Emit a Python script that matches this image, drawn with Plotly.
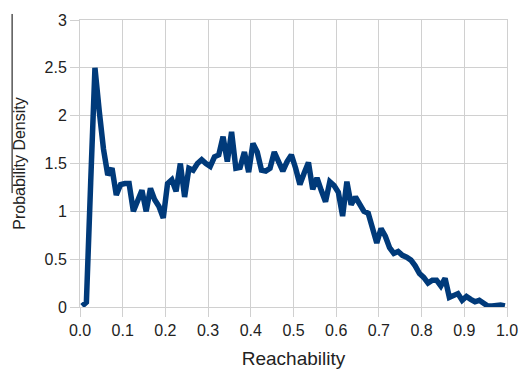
import plotly.graph_objects as go

reachability = [round(0.005 + 0.01 * k, 3) for k in range(100)]
density = [
    0.01, 0.05, 1.30, 2.50, 2.05, 1.65, 1.38, 1.45, 1.17, 1.28,
    1.29, 1.29, 1.00, 1.10, 1.22, 1.00, 1.24, 1.12, 1.05, 0.93,
    1.29, 1.33, 1.21, 1.50, 1.15, 1.45, 1.43, 1.50, 1.54, 1.50,
    1.47, 1.57, 1.59, 1.78, 1.52, 1.83, 1.45, 1.46, 1.62, 1.41,
    1.71, 1.62, 1.43, 1.42, 1.45, 1.62, 1.50, 1.42, 1.52, 1.59,
    1.45, 1.28, 1.40, 1.51, 1.23, 1.35, 1.22, 1.10, 1.31, 1.27,
    1.20, 0.95, 1.31, 1.07, 1.15, 1.08, 1.00, 0.98, 0.80, 0.67,
    0.82, 0.74, 0.62, 0.56, 0.58, 0.54, 0.52, 0.49, 0.43, 0.35,
    0.31, 0.25, 0.28, 0.28, 0.22, 0.30, 0.10, 0.12, 0.14, 0.07,
    0.11, 0.08, 0.055, 0.07, 0.04, 0.01, 0.01, 0.02, 0.02, 0.01,
]
x_ticks = [0.0, 0.1, 0.2, 0.3, 0.4, 0.5, 0.6, 0.7, 0.8, 0.9, 1.0]
y_ticks = [0, 0.5, 1, 1.5, 2, 2.5, 3]

FONT = "Liberation Sans, Arial, sans-serif"
GRID = "#d0d0d0"

fig = go.Figure(
    go.Scatter(
        x=reachability, y=density, mode="lines",
        line=dict(color="#003a7a", width=5.5),
        showlegend=False, hoverinfo="skip",
    )
)

fig.update_layout(
    width=519, height=369,
    margin=dict(l=80, r=12, t=20, b=62, autoexpand=False),
    paper_bgcolor="white", plot_bgcolor="white",
    font=dict(family=FONT, size=16, color="#222222"),
)
fig.update_xaxes(
    range=[0, 1], tickvals=x_ticks, tickformat=".1f",
    automargin=False,
    showgrid=True, gridcolor=GRID, gridwidth=1,
    showline=True, linecolor=GRID, linewidth=1, mirror=True,
    ticks="outside", ticklen=9, tickcolor=GRID,
    zeroline=False,
    title=dict(text="Reachability", font=dict(size=19, color="#222222"), standoff=19),
)
fig.update_yaxes(
    range=[0, 3], tickvals=y_ticks,
    automargin=False,
    showgrid=True, gridcolor=GRID, gridwidth=1,
    showline=True, linecolor=GRID, linewidth=1, mirror=True,
    ticks="outside", ticklen=9, tickcolor=GRID,
    zeroline=False,
    title=dict(text="Probability Density", font=dict(size=16, color="#222222"), standoff=14),
)
fig.add_shape(
    type="line", xref="paper", yref="paper",
    x0=-0.159, x1=-0.159, y0=1.021, y1=0.397,
    line=dict(color="black", width=1),
)

fig.write_html(
    "out.html",
    config={"displayModeBar": False},
    post_script="document.body.style.margin='0';document.body.style.overflow='hidden';",
)
